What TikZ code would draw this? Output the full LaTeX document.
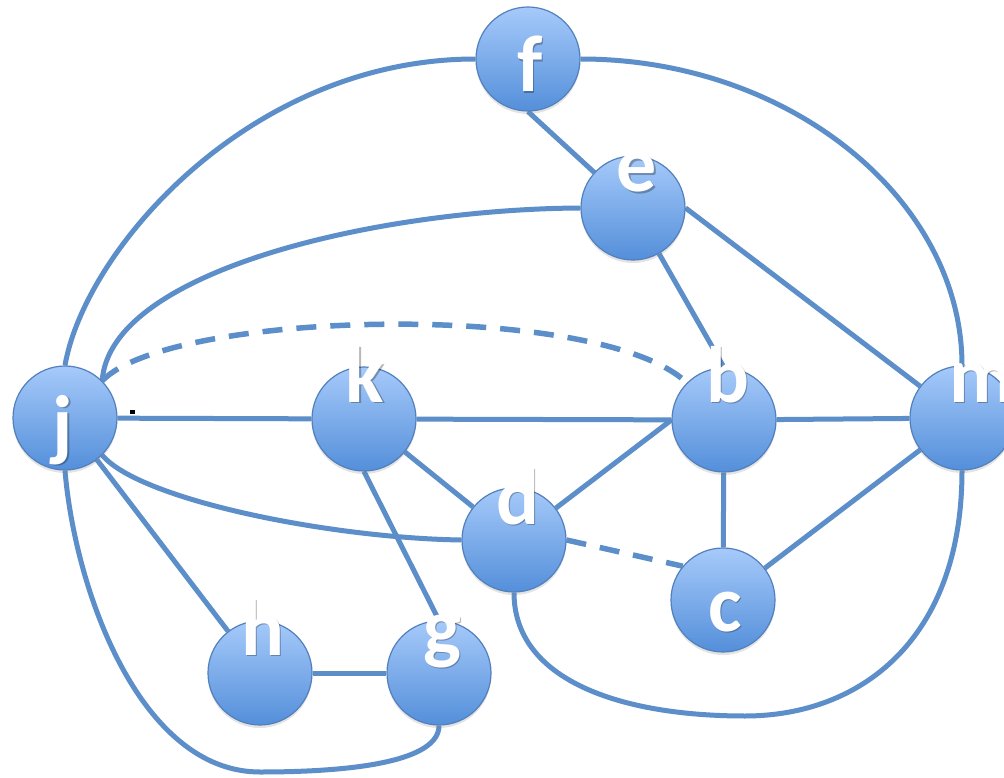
\documentclass[tikz,border=0pt]{standalone}
\usepackage{fontspec}
\setmainfont{Carlito}
\usetikzlibrary{shadows}
\definecolor{edgeblue}{RGB}{92,142,201}
\definecolor{nodeline}{RGB}{82,128,188}
\definecolor{nodetop}{RGB}{166,202,250}
\definecolor{nodebot}{RGB}{84,143,218}
\pgfdeclarelayer{bg}
\pgfsetlayers{bg,main}
\newcommand\vlabel[3]{%
  \node[lbl, text=black, text opacity=0.28, xshift=1.3pt, yshift=-1.3pt] (#1s) at (#2) {#3};
  \node[lbl] (#1) at (#2) {#3};}
\begin{document}
\begin{tikzpicture}[x={(1pt,0)},y={(0,-1pt)},
  vertex/.style={circle, minimum size=104pt, inner sep=0pt, draw=nodeline, line width=1.2pt,
    top color=nodetop, bottom color=nodebot,
    drop shadow={opacity=0.22, shadow xshift=0pt, shadow yshift=-3pt}},
  lbl/.style={anchor=base, text=white, font=\fontsize{80}{80}\selectfont\bfseries, inner sep=0pt},
  edge/.style={draw=edgeblue, line width=5pt},
  dashedge/.style={draw=edgeblue, line width=5.5pt, dash pattern=on 20pt off 14pt}]
\begin{pgfonlayer}{bg}
\fill[white] (0,0) rectangle (1004,778);
\end{pgfonlayer}
\useasboundingbox (0,0) rectangle (1004,778);

% vertices
\node[vertex] (f) at (528,59) {};
\node[vertex] (e) at (633,208) {};
\node[vertex] (j) at (65,418) {};
\node[vertex] (k) at (364,419) {};
\node[vertex] (b) at (724,420) {};
\node[vertex] (m) at (962,418) {};
\node[vertex] (d) at (514,540) {};
\node[vertex] (c) at (723,600) {};
\node[vertex] (h) at (260,673) {};
\node[vertex] (g) at (439,673) {};

\coordinate (jg) at (260,772);
\coordinate (dm) at (745,716);

\begin{pgfonlayer}{bg}
% curved edges
\draw[edge] (j.north) .. controls (85,250) and (250,59) .. (f.west);
\draw[edge] (f.east) .. controls (790,59) and (962,200) .. (m.north);
\draw[edge] (e.west) .. controls (380,209) and (110,270) .. (j.45);
\draw[dashedge] (j.45) .. controls (170,310) and (600,300) .. (b.135);
\draw[edge] (j.-45) .. controls (140,500) and (330,538) .. (d.west);
\draw[edge] (j.south) .. controls (75,590) and (140,772) .. (jg)
  .. controls (360,772) and (439,760) .. (g.south);
\draw[edge] (d.south) .. controls (514,680) and (620,716) .. (dm)
  .. controls (860,716) and (962,640) .. (m.south);
% straight edges
\draw[edge] (f.south) -- (e);
\draw[edge] (e) -- (b.north);
\draw[edge] (e.east) -- (m);
\draw[edge] (j) -- (k);
\draw[edge] (k) -- (b);
\draw[edge] (b) -- (m);
\draw[edge] (k) -- (d);
\draw[edge] (d) -- (b.west);
\draw[edge] (b) -- (c);
\draw[edge] (c) -- (m);
\draw[dashedge] (d.east) -- (c.140);
\draw[edge] (j) -- (h);
\draw[edge] (k.south) -- (g.north);
\draw[edge] (h) -- (g);
\end{pgfonlayer}

% labels
\vlabel{lf}{530,92}{f}
\vlabel{le}{637,192}{e}
\vlabel{lk}{365,402}{k}
\vlabel{lb}{728,402}{b}
\vlabel{lm}{982,402}{m}
\vlabel{lj}{63,451}{j}
\vlabel{ld}{518,524}{d}
\vlabel{lc}{725,631}{c}
\vlabel{lh}{263,655}{h}
\vlabel{lg}{442,654}{g}

\fill[black] (130,410) rectangle (135,414);
\end{tikzpicture}
\end{document}
